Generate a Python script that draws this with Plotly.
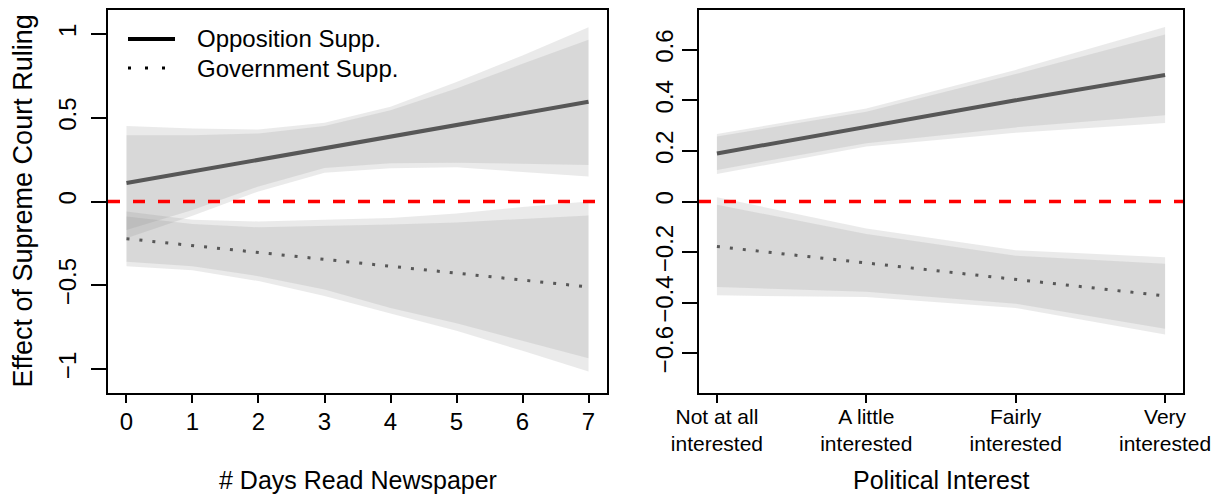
import plotly.graph_objects as go

# ---------------- data ----------------
days = [0, 1, 2, 3, 4, 5, 6, 7]
opp_est = [0.11, 0.18, 0.25, 0.32, 0.39, 0.46, 0.53, 0.595]
opp_hi95 = [0.45, 0.436, 0.43, 0.47, 0.565, 0.713, 0.872, 1.04]
opp_hi90 = [0.396, 0.396, 0.406, 0.45, 0.545, 0.674, 0.822, 0.965]
opp_lo90 = [-0.17, -0.05, 0.09, 0.20, 0.228, 0.232, 0.224, 0.218]
opp_lo95 = [-0.22, -0.085, 0.06, 0.172, 0.198, 0.204, 0.178, 0.149]

gov_est = [-0.222, -0.263, -0.304, -0.345, -0.386, -0.427, -0.468, -0.51]
gov_hi95 = [-0.059, -0.109, -0.119, -0.109, -0.099, -0.071, -0.033, 0.0]
gov_hi90 = [-0.089, -0.134, -0.154, -0.148, -0.138, -0.125, -0.103, -0.083]
gov_lo90 = [-0.36, -0.386, -0.446, -0.525, -0.635, -0.727, -0.832, -0.935]
gov_lo95 = [-0.386, -0.41, -0.475, -0.564, -0.668, -0.772, -0.891, -1.015]

interest_pos = [1, 2, 3, 4]
interest_labels = ["Not at all<br>interested", "A little<br>interested",
                   "Fairly<br>interested", "Very<br>interested"]
int_opp_est = [0.19, 0.295, 0.40, 0.50]
int_opp_hi95 = [0.267, 0.368, 0.52, 0.69]
int_opp_hi90 = [0.257, 0.355, 0.504, 0.66]
int_opp_lo90 = [0.125, 0.23, 0.293, 0.341]
int_opp_lo95 = [0.109, 0.217, 0.272, 0.31]

int_gov_est = [-0.178, -0.243, -0.308, -0.373]
int_gov_hi95 = [0.017, -0.107, -0.193, -0.22]
int_gov_hi90 = [-0.013, -0.128, -0.214, -0.246]
int_gov_lo90 = [-0.338, -0.357, -0.404, -0.503]
int_gov_lo95 = [-0.371, -0.378, -0.421, -0.526]

left_yticks = [-1, -0.5, 0, 0.5, 1]
left_ytext = ["\u22121", "\u22120.5", "0", "0.5", "1"]
right_yticks = [-0.6, -0.4, -0.2, 0, 0.2, 0.4, 0.6]
right_ytext = ["\u22120.6", "\u22120.4", "\u22120.2", "0", "0.2", "0.4", "0.6"]

legend_labels = ["Opposition Supp.", "Government Supp."]

# ---------------- styles ----------------
FONT = "Liberation Sans, Arial, Helvetica, sans-serif"
BAND = "rgba(128,128,128,0.17)"
LINE_COL = "#575757"
W, H = 1219, 495
L_BOX = (108, 607)
R_BOX = (699, 1183)
TOP, BOT = 10, 393


def px2paper_x(p):
    return p / W


def px2paper_y(p):
    return (H - p) / H


fig = go.Figure()


def band(x, hi, lo, xa, ya):
    fig.add_trace(go.Scatter(
        x=list(x) + list(x)[::-1], y=list(hi) + list(lo)[::-1],
        fill="toself", fillcolor=BAND, line=dict(width=0),
        mode="lines", hoverinfo="skip", showlegend=False,
        xaxis=xa, yaxis=ya))


for xa, ya, xs, groups in [
    ("x", "y", days, [(opp_hi95, opp_lo95, opp_hi90, opp_lo90),
                      (gov_hi95, gov_lo95, gov_hi90, gov_lo90)]),
    ("x2", "y2", interest_pos, [(int_opp_hi95, int_opp_lo95, int_opp_hi90, int_opp_lo90),
                                (int_gov_hi95, int_gov_lo95, int_gov_hi90, int_gov_lo90)]),
]:
    for h95, l95, h90, l90 in groups:
        band(xs, h95, l95, xa, ya)
        band(xs, h90, l90, xa, ya)

# estimate lines
for xa, ya, xs, oe, ge in [("x", "y", days, opp_est, gov_est),
                           ("x2", "y2", interest_pos, int_opp_est, int_gov_est)]:
    fig.add_trace(go.Scatter(x=xs, y=oe, mode="lines",
                             line=dict(color=LINE_COL, width=4),
                             hoverinfo="skip", showlegend=False,
                             xaxis=xa, yaxis=ya))
    fig.add_trace(go.Scatter(x=xs, y=ge, mode="lines",
                             line=dict(color=LINE_COL, width=3, dash="3px,10px"),
                             hoverinfo="skip", showlegend=False,
                             xaxis=xa, yaxis=ya))

# red dashed zero lines
for xr, yr in [("x domain", "y"), ("x2 domain", "y2")]:
    fig.add_shape(type="line", xref=xr, yref=yr, x0=0, x1=1, y0=0, y1=0,
                  line=dict(color="#ff0000", width=3.3, dash="12px,13px"),
                  layer="above")

# legend (drawn manually, R style)
fig.add_shape(type="line", xref="paper", yref="paper",
              x0=px2paper_x(128), x1=px2paper_x(175),
              y0=px2paper_y(39), y1=px2paper_y(39),
              line=dict(color="black", width=4))
fig.add_shape(type="line", xref="paper", yref="paper",
              x0=px2paper_x(128), x1=px2paper_x(168),
              y0=px2paper_y(68), y1=px2paper_y(68),
              line=dict(color="black", width=3, dash="3px,14px"))
for lab, yy in zip(legend_labels, [39, 68]):
    fig.add_annotation(text=lab, xref="paper", yref="paper",
                       x=px2paper_x(195), y=px2paper_y(yy),
                       xanchor="left", yanchor="middle", showarrow=False,
                       font=dict(family=FONT, size=24, color="black"))

# axis titles
fig.add_annotation(text="# Days Read Newspaper", xref="paper", yref="paper",
                   x=px2paper_x(sum(L_BOX) / 2), y=px2paper_y(480),
                   xanchor="center", yanchor="middle", showarrow=False,
                   font=dict(family=FONT, size=25, color="black"))
fig.add_annotation(text="Political Interest", xref="paper", yref="paper",
                   x=px2paper_x(sum(R_BOX) / 2), y=px2paper_y(480),
                   xanchor="center", yanchor="middle", showarrow=False,
                   font=dict(family=FONT, size=25, color="black"))
fig.add_annotation(text="Effect of Supreme Court Ruling", xref="paper", yref="paper",
                   x=px2paper_x(23), y=px2paper_y((TOP + BOT) / 2),
                   xanchor="center", yanchor="middle", showarrow=False,
                   textangle=-90,
                   font=dict(family=FONT, size=27, color="black"))

axis_common = dict(showgrid=False, zeroline=False, showline=True, mirror=True,
                   linecolor="black", linewidth=1.5, ticks="outside",
                   tickcolor="black", tickwidth=1.5, automargin=False)

fig.update_layout(
    width=W, height=H,
    margin=dict(l=0, r=0, t=0, b=0, pad=0, autoexpand=False),
    paper_bgcolor="white", plot_bgcolor="white",
    font=dict(family=FONT, color="black"),
    showlegend=False,
    xaxis=dict(domain=[px2paper_x(L_BOX[0]), px2paper_x(L_BOX[1])],
               range=[-0.28, 7.28], tickvals=days,
               ticklen=8, tickfont=dict(size=24), ticklabelstandoff=-2,
               anchor="y", **axis_common),
    yaxis=dict(domain=[px2paper_y(BOT), px2paper_y(TOP)],
               range=[-1.143, 1.143], tickvals=left_yticks, ticktext=left_ytext,
               tickangle=-90, ticklen=15, tickfont=dict(size=24),
               ticklabelstandoff=6, anchor="x", **axis_common),
    xaxis2=dict(domain=[px2paper_x(R_BOX[0]), px2paper_x(R_BOX[1])],
                range=[0.88, 4.12], tickvals=interest_pos, ticktext=interest_labels,
                ticklen=8, tickfont=dict(size=21), ticklabelstandoff=-4,
                anchor="y2", **axis_common),
    yaxis2=dict(domain=[px2paper_y(BOT), px2paper_y(TOP)],
                range=[-0.757, 0.757], tickvals=right_yticks, ticktext=right_ytext,
                tickangle=-90, ticklen=15, tickfont=dict(size=24), anchor="x2",
                **axis_common),
)

fig.write_html("out.html", config={"displayModeBar": False},
               post_script="document.body.style.margin='0';document.body.style.overflow='hidden';")
